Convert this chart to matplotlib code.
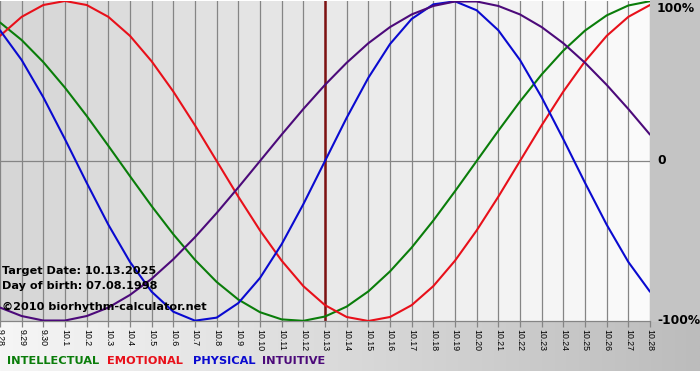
import numpy as np
import matplotlib
matplotlib.use("Agg")
import matplotlib.pyplot as plt
from matplotlib.colors import LinearSegmentedColormap

# ---- data ----
dates = ['9.28', '9.29', '9.30'] + ['10.%d' % d for d in range(1, 29)]
intellectual = [0.866, 0.756, 0.618, 0.458, 0.282, 0.095, -0.095, -0.282, -0.458, -0.618,
                -0.756, -0.866, -0.945, -0.990, -0.999, -0.972, -0.910, -0.815, -0.690, -0.541,
                -0.372, -0.189, 0.000, 0.189, 0.372, 0.541, 0.690, 0.815, 0.910, 0.972, 0.999]
emotional = [0.782, 0.901, 0.975, 1.000, 0.975, 0.901, 0.782, 0.623, 0.434, 0.223,
             0.000, -0.223, -0.434, -0.623, -0.782, -0.901, -0.975, -1.000, -0.975, -0.901,
             -0.782, -0.623, -0.434, -0.223, 0.000, 0.223, 0.434, 0.623, 0.782, 0.901, 0.975]
physical = [0.817, 0.631, 0.398, 0.136, -0.136, -0.398, -0.631, -0.817, -0.942, -0.998,
            -0.979, -0.888, -0.731, -0.520, -0.270, 0.000, 0.270, 0.520, 0.731, 0.888,
            0.979, 0.998, 0.942, 0.817, 0.631, 0.398, 0.136, -0.136, -0.398, -0.631, -0.817]
intuitive = [-0.916, -0.969, -0.997, -0.997, -0.969, -0.916, -0.837, -0.736, -0.614, -0.476,
             -0.325, -0.165, 0.000, 0.165, 0.325, 0.476, 0.614, 0.736, 0.837, 0.916,
             0.969, 0.997, 0.997, 0.969, 0.916, 0.837, 0.736, 0.614, 0.476, 0.325, 0.165]
target_label = '10.13'
series_names = ['INTELLECTUAL', 'EMOTIONAL', 'PHYSICAL', 'INTUITIVE']
y_labels = ['100%', '0', '-100%']
info_lines = ['Target Date: 10.13.2025', 'Day of birth: 07.08.1998', '\u00a92010 biorhythm-calculator.net']

# ---- styles ----
colors = {'INTELLECTUAL': '#0a7d0a', 'EMOTIONAL': '#e8101a', 'PHYSICAL': '#0a0ad0', 'INTUITIVE': '#4c0a7a'}
W, H = 700, 380
fig = plt.figure(figsize=(W / 100, H / 100), dpi=100)
fig.patch.set_facecolor('white')

def px(x0, y0, x1, y1):
    return [x0 / W, 1 - y1 / H, (x1 - x0) / W, (y1 - y0) / H]

# background axes
bg = fig.add_axes([0, 0, 1, 1], zorder=0)
grad = np.linspace(0, 1, 256)[None, :]
cm_bottom = LinearSegmentedColormap.from_list('b', ['#f6f6f6', '#bcbcbc'])
bg.imshow(grad, extent=(0, W, 371, 322), cmap=cm_bottom, aspect='auto')
bg.add_patch(plt.Rectangle((650, 0), 50, 322, color='#c4c4c4', lw=0))
bg.set_xlim(0, W); bg.set_ylim(H, 0); bg.axis('off')

ax = fig.add_axes(px(0, 1, 650, 321), zorder=1)
n = len(dates)
x = np.arange(n)
ax.set_xlim(0, n - 1)
ax.set_ylim(-1, 1)

# column shading
shade = LinearSegmentedColormap.from_list('s', ['#d6d6d6', '#fafafa'])
for i in range(n - 1):
    ax.axvspan(i, i + 1, color=shade(i / (n - 2)), lw=0, zorder=0)
for i in range(n):
    ax.axvline(i, color='#858585', lw=0.9, zorder=1)
ax.axhline(0, color='#858585', lw=0.9, zorder=1)

ti = dates.index(target_label)
ax.axvline(ti, color='#7e1212', lw=1.8, zorder=2)

for name, vals in zip(series_names, [intellectual, emotional, physical, intuitive]):
    ax.plot(x, vals, color=colors[name], lw=1.5, zorder=3, solid_capstyle='round',
            solid_joinstyle='round')

for s in ['top', 'right', 'left']:
    ax.spines[s].set_visible(False)
ax.spines['bottom'].set_color('#858585')
ax.spines['bottom'].set_linewidth(0.9)
ax.set_yticks([])
ax.set_xticks(x)
ax.set_xticklabels(dates, rotation=270, fontsize=6.3, family='Liberation Sans')
ax.tick_params(axis='x', length=4, color='#858585', width=0.9, pad=1.5)

# right labels
for lab, yv in zip(y_labels, [0.955, 0, -1]):
    ax.text(n - 1 + 0.32, yv, lab, ha='left', va='center', fontsize=8.8, fontweight='bold',
            family='DejaVu Sans', clip_on=False)

# info text
for t, yy in zip(info_lines, [271, 286, 307]):
    fig.text(2 / W, 1 - yy / H, t, ha='left', va='center', fontsize=8.1, fontweight='bold',
             family='DejaVu Sans', zorder=5)

# legend
xs = [7, 107, 193, 262]
for name, xx in zip(series_names, xs):
    fig.text(xx / W, 1 - 361 / H, name, ha='left', va='center', fontsize=8.2, fontweight='bold',
             color=colors[name], family='DejaVu Sans')

fig.savefig('out.png', dpi=100)
